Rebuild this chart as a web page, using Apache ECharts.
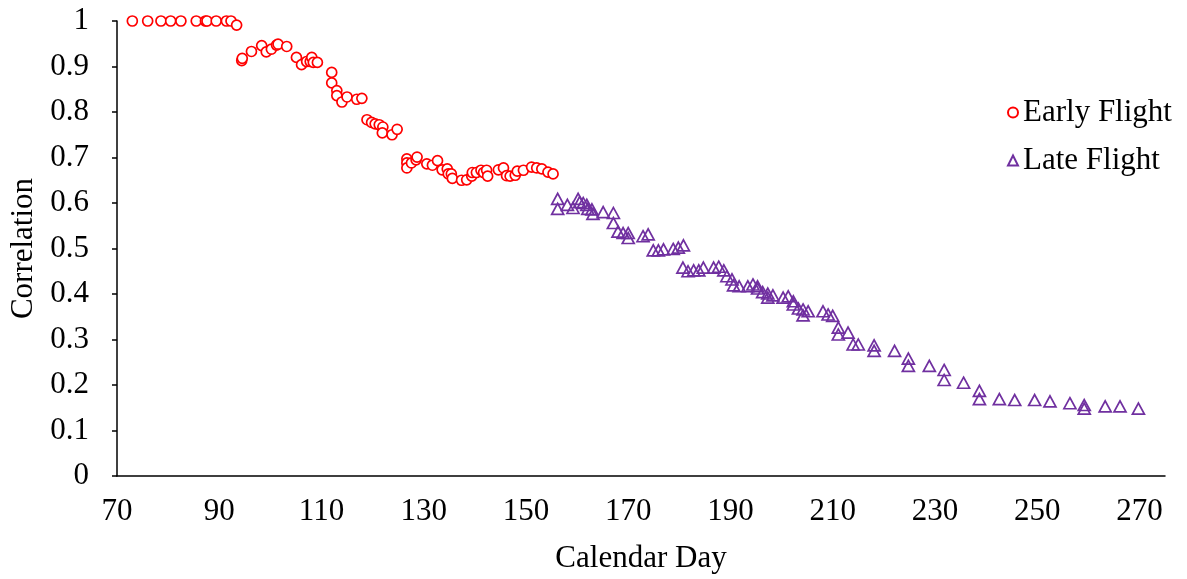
<!DOCTYPE html>
<html>
<head>
<meta charset="utf-8">
<script src="https://cdn.jsdelivr.net/npm/echarts@6/dist/echarts.min.js"></script>
<style>html,body{margin:0;padding:0;background:#fff}#c{width:1187px;height:579px}</style>
</head>
<body>
<div id="c"></div>
<script>
var earlyDay = [73,76,78.6,80.5,82.5,85.5,87.3,87.6,89.4,91.4,92.3,93.4,94.4,94.5,96.3,98.3,99.2,100.2,101.2,101.5,103.2,105.1,106.1,107.1,107.8,108.1,108.4,109.2,112.0,112.0,113.0,113.0,114.0,115.0,116.9,117.9,118.9,119.8,120.5,121.3,122.0,121.9,123.8,124.8,126.7,126.7,126.7,127.6,128.5,128.7,130.6,131.7,132.7,133.6,134.6,134.8,135.4,135.6,137.4,138.4,139.4,139.5,140.3,141.2,141.7,142.3,142.5,144.6,145.6,146.2,146.9,147.9,148.3,149.5,151.1,152.1,153.1,154.3,155.3];
var earlyCorr = [1,1,1,1,1,1,1,1,1,1,1,0.991,0.913,0.918,0.933,0.946,0.932,0.938,0.947,0.949,0.944,0.920,0.904,0.911,0.911,0.920,0.909,0.909,0.887,0.864,0.847,0.836,0.822,0.833,0.828,0.830,0.783,0.777,0.774,0.772,0.767,0.754,0.750,0.762,0.697,0.688,0.677,0.688,0.695,0.701,0.686,0.683,0.693,0.673,0.675,0.664,0.664,0.654,0.650,0.651,0.659,0.667,0.667,0.672,0.667,0.672,0.659,0.673,0.677,0.660,0.659,0.661,0.670,0.672,0.679,0.677,0.675,0.668,0.664];
var lateDay = [156.2,156.2,158.1,159.2,160.2,160.5,161.2,161.9,162.1,162.9,163.1,165.1,167.1,167.1,168.0,169.0,170.0,170.0,172.9,173.9,174.9,175.9,176.9,178.8,179.8,180.8,180.7,181.7,182.8,183.8,184.7,186.7,187.7,188.7,189.3,190.3,190.6,191.7,193.4,194.4,195.3,195.3,196.3,197.3,197.3,198.3,200.3,201.3,202.3,202.3,203.3,204.2,204.2,205.2,208.1,209.1,210.0,211.1,211.1,213.0,214.0,215.0,218.1,218.1,222.1,224.8,224.8,228.9,231.8,231.8,235.6,238.7,238.7,242.6,245.6,249.5,252.5,256.4,259.2,259.2,263.3,266.2,269.8];
var lateCorr = [0.609,0.587,0.596,0.589,0.609,0.602,0.600,0.596,0.587,0.586,0.576,0.580,0.578,0.556,0.537,0.534,0.534,0.523,0.527,0.531,0.496,0.496,0.498,0.499,0.502,0.507,0.458,0.450,0.452,0.452,0.458,0.458,0.460,0.452,0.439,0.432,0.419,0.417,0.417,0.421,0.417,0.412,0.404,0.401,0.392,0.397,0.392,0.395,0.384,0.377,0.368,0.366,0.353,0.362,0.362,0.355,0.352,0.326,0.311,0.315,0.289,0.289,0.287,0.275,0.275,0.258,0.242,0.242,0.233,0.211,0.205,0.187,0.169,0.169,0.167,0.167,0.164,0.160,0.156,0.148,0.153,0.153,0.148];
var xTickLabels = [70,90,110,130,150,170,190,210,230,250,270];
var seriesNames = ['Early Flight','Late Flight'];
var xAxisTitle = 'Calendar Day';
var yAxisTitle = 'Correlation';

function pairs(xs, ys){ return xs.map(function(x,i){ return [x, ys[i]]; }); }

var FONT = '"Liberation Serif","Times New Roman",serif';
var FS = 31;
var chart = echarts.init(document.getElementById('c'), null, {renderer:'canvas'});
chart.setOption({
  animation:false,
  backgroundColor:'#fff',
  textStyle:{fontFamily:FONT,color:'#000'},
  grid:{left:117, right:22, top:21, bottom:102, containLabel:false},
  legend:{
    orient:'vertical', left:1002, top:92, itemWidth:10, itemHeight:10, itemGap:17,
    textStyle:{fontFamily:FONT, fontSize:FS, color:'#000', lineHeight:30},
    data:seriesNames
  },
  xAxis:{
    type:'value', min:70, max:275, interval:10,
    name:xAxisTitle, nameLocation:'middle', nameGap:67,
    nameTextStyle:{fontFamily:FONT, fontSize:FS, color:'#000'},
    axisLine:{show:true, onZero:false, lineStyle:{color:'#000', width:1.5}},
    axisTick:{show:false},
    axisLabel:{showMaxLabel:false, margin:20, fontFamily:FONT, fontSize:FS, color:'#000',
      formatter:function(v){ return xTickLabels.indexOf(Math.round(v)) >= 0 ? String(Math.round(v)) : ''; }},
    splitLine:{show:false}
  },
  yAxis:{
    type:'value', min:0, max:1, interval:0.1,
    name:yAxisTitle, nameLocation:'middle', nameGap:77, nameRotate:90,
    nameTextStyle:{fontFamily:FONT, fontSize:FS, color:'#000'},
    axisLine:{show:true, lineStyle:{color:'#000', width:1.5}},
    axisTick:{show:true, inside:false, length:5, lineStyle:{color:'#000', width:1.5}},
    axisLabel:{margin:28, fontFamily:FONT, fontSize:FS, color:'#000'},
    splitLine:{show:false}
  },
  series:[
    {name:seriesNames[0], type:'scatter', symbol:'circle', symbolSize:10,
     itemStyle:{color:'#fff', borderColor:'#FF0000', borderWidth:1.7, opacity:1},
     data:pairs(earlyDay, earlyCorr)},
    {name:seriesNames[1], type:'scatter', symbol:'triangle', symbolSize:[12,11],
     itemStyle:{color:'rgba(255,255,255,0)', borderColor:'#7030A0', borderWidth:1.7, opacity:1},
     data:pairs(lateDay, lateCorr)}
  ]
});
</script>
</body>
</html>
